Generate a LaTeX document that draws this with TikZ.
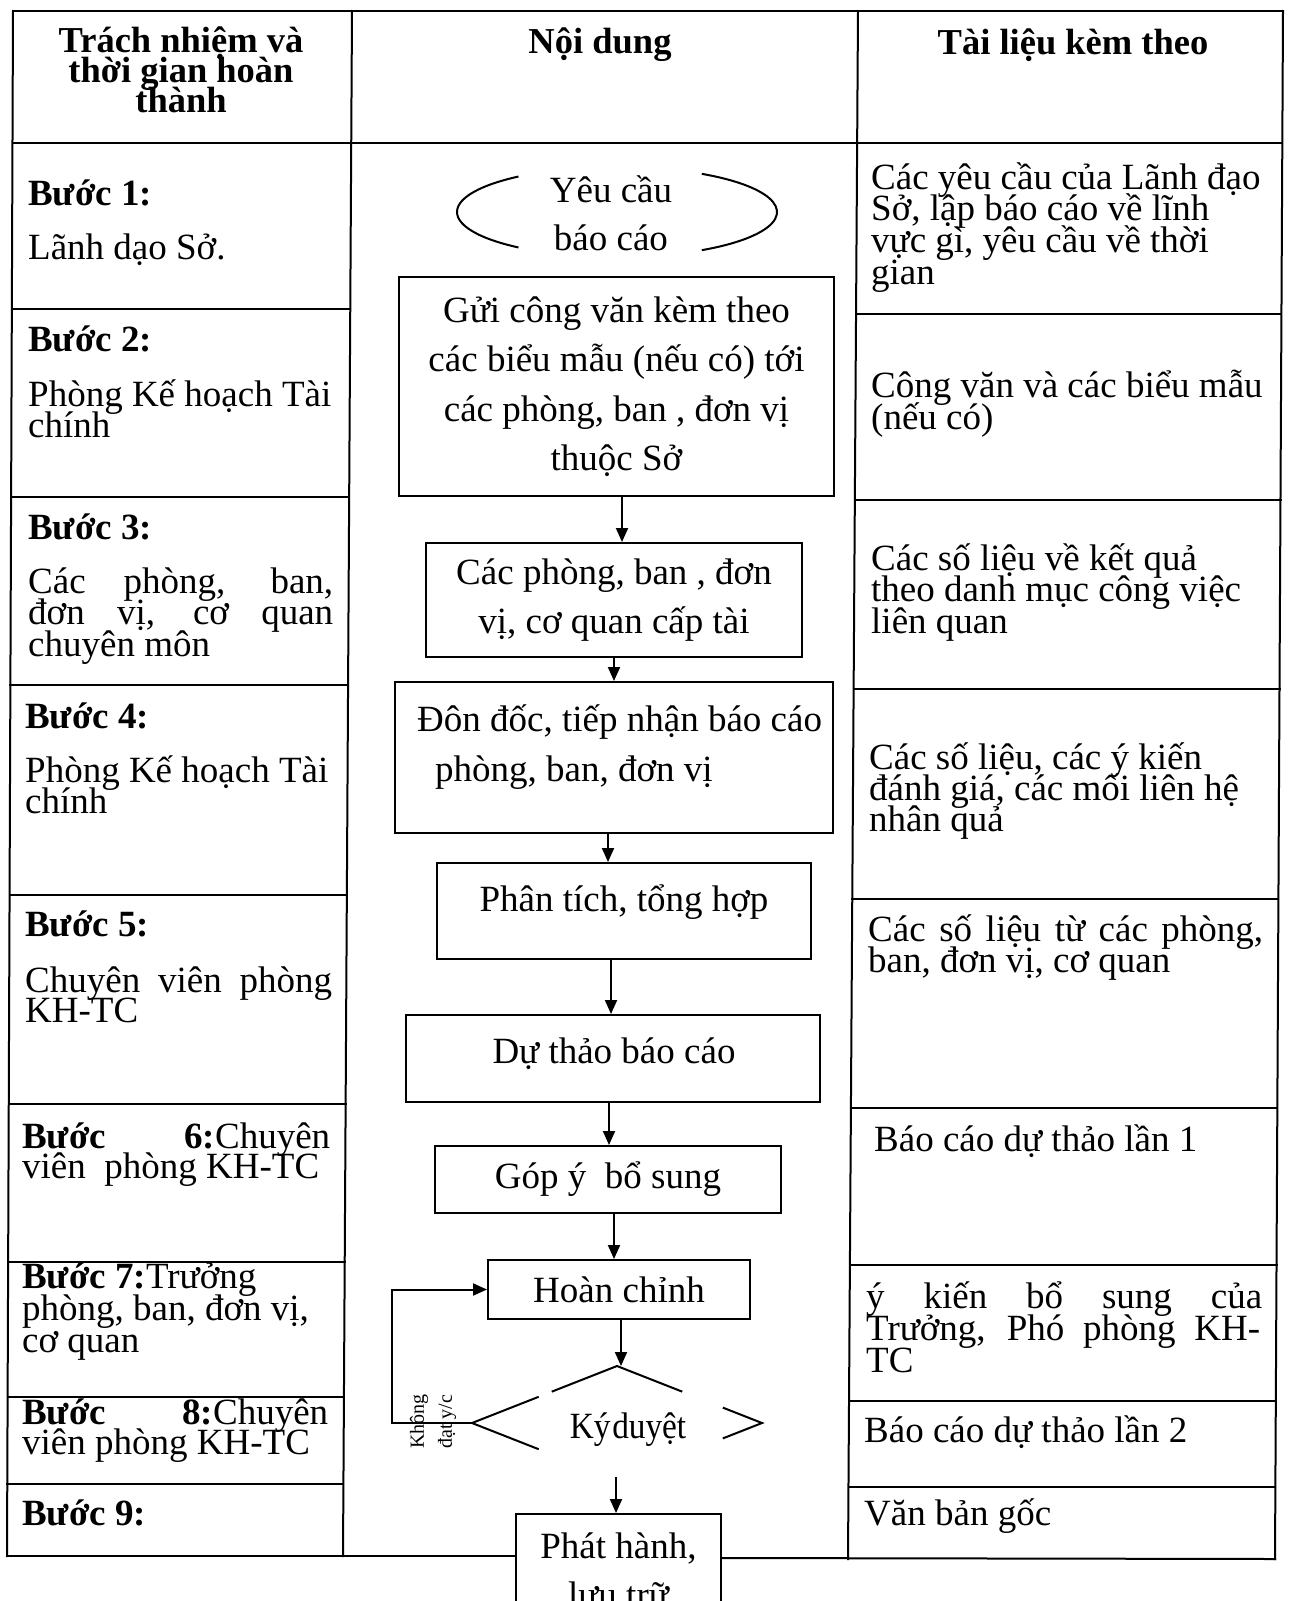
\documentclass[tikz,border=0pt]{standalone}
\usepackage{fontspec}
\usepackage{graphicx}
\setmainfont{Liberation Serif}
\usetikzlibrary{arrows.meta,calc}
\newcommand\flowfont{\fontsize{37}{49.5}\selectfont}
\newcommand\cellfont{\fontsize{37}{31.5}\selectfont}
\newcommand\hdrfont{\fontsize{36.5}{30}\selectfont\bfseries}
\newcommand\smallfont{\fontsize{20}{27}\selectfont}
\newcommand\ctrlines[2]{\vtop{\baselineskip=#1\lineskiplimit=-100pt\lineskip=0pt\halign{\hfil##\hfil\cr#2\crcr}}}
\newcommand\leftlines[2]{\vtop{\baselineskip=#1\lineskiplimit=-100pt\lineskip=0pt\halign{##\hfil\cr#2\crcr}}}
\tikzset{
  tbl/.style={line width=2pt, line cap=rect},
  box/.style={draw, line width=2pt, inner sep=0pt, align=center, font=\flowfont},
  flowtxt/.style={inner sep=0pt, font=\flowfont},
  cell/.style={inner sep=0pt, anchor=base west, font=\cellfont},
  hdr/.style={inner sep=0pt, anchor=base, font=\hdrfont},
  arr/.style={line width=2pt, -{Triangle[length=14pt,width=12pt]}},
  shapeline/.style={line width=2pt},
}
\begin{document}
\begin{tikzpicture}[x=1pt,y=-1pt]
\useasboundingbox (0,0) rectangle (1289,1601);
\clip (0,0) rectangle (1289,1601);

% ---------- flow boxes ----------
\node[box, minimum width=435pt, minimum height=219pt] (b1) at (616.5,386.5)
  {Gửi công văn kèm theo\\các biểu mẫu (nếu có) tới\\các phòng, ban , đơn vị\\thuộc Sở};
\node[box, minimum width=376pt, minimum height=114pt] (b2) at (614,600)
  {Các phòng, ban , đơn\\vị, cơ quan cấp tài};
\node[box, minimum width=438pt, minimum height=151pt] (b3) at (614,757.5) {};
\node[flowtxt, anchor=base west] (t3) at (417,731)
  {\leftlines{50pt}{Đôn đốc, tiếp nhận báo cáo\cr\kern18pt phòng, ban, đơn vị}};
\node[box, minimum width=374pt, minimum height=96pt] (b4) at (624,911) {};
\node[flowtxt, anchor=base] (t4) at (624,911) {Phân tích, tổng hợp};
\node[box, minimum width=414pt, minimum height=87pt] (b5) at (613,1058.5) {};
\node[flowtxt, anchor=base] (t5) at (614,1063) {Dự thảo báo cáo};
\node[box, minimum width=346pt, minimum height=67pt] (b6) at (608,1179.5) {Góp ý~~bổ sung};
\node[box, minimum width=262pt, minimum height=59pt] (b7) at (619,1289.5) {Hoàn chỉnh};
\node[box, minimum width=205pt, minimum height=140pt, anchor=north] (b8) at (618.5,1513) {};
\node[flowtxt, anchor=base] (t8) at (618.5,1558) {\ctrlines{49.5pt}{Phát hành,\cr lưu trữ}};

% ---------- start ellipse ----------
\coordinate (ec) at (617,212);
\draw[shapeline] (ec) ++(128:160 and 45) arc[start angle=128,end angle=232,x radius=160,y radius=45];
\draw[shapeline] (ec) ++(-58:160 and 45) arc[start angle=-58,end angle=58,x radius=160,y radius=45];
\node[flowtxt, anchor=base] (yc) at (611,202) {\ctrlines{48pt}{Yêu cầu\cr báo cáo}};

% ---------- decision ----------
\coordinate (dt) at (617,1366);
\coordinate (dl) at (472,1423);
\coordinate (dr) at (762,1423);
\coordinate (dbm) at (617,1480);
\draw[shapeline] ($(dt)!0.45!(dl)$) -- (dt) -- ($(dt)!0.45!(dr)$);
\draw[shapeline] ($(dl)!0.46!(dt)$) -- (dl) -- ($(dl)!0.46!(dbm)$);
\draw[shapeline] ($(dr)!0.27!(dt)$) -- (dr) -- ($(dr)!0.27!(dbm)$);
\node[flowtxt, anchor=base] (kd) at (628,1438) {\scalebox{0.9}[1]{Ký\hspace{2pt}duyệt}};
\node[inner sep=0pt, font=\smallfont, rotate=90, anchor=west] (kdl) at (433,1449)
  {\leftlines{28pt}{Không\cr đạt y/c}};

% ---------- connectors ----------
\coordinate (x1) at (622,0);
\coordinate (x2) at (614,0);
\coordinate (x3) at (608,0);
\coordinate (x4) at (611,0);
\coordinate (x5) at (609,0);
\coordinate (x6) at (614,0);
\coordinate (x7) at (621,0);
\coordinate (kdb) at (616,1477);
\coordinate (fb) at (392,1423);
\draw[arr] (b1.south -| x1) -- (b2.north -| x1);
\draw[arr] (b2.south -| x2) -- (b3.north -| x2);
\draw[arr] (b3.south -| x3) -- (b4.north -| x3);
\draw[arr] (b4.south -| x4) -- (b5.north -| x4);
\draw[arr] (b5.south -| x5) -- (b6.north -| x5);
\draw[arr] (b6.south -| x6) -- (b7.north -| x6);
\draw[arr] (b7.south -| x7) -- (dt -| x7);
\draw[arr] (kdb) -- (b8.north -| kdb);
\draw[arr] (dl) -- (fb) |- (b7.west);

% ---------- table lines ----------
\draw[tbl] (13,11) -- (1283,11);
\draw[tbl] (13,11) -- (7,1556);
\draw[tbl] (352,11) -- (343,1556);
\draw[tbl] (858,11) -- (848,1559);
\draw[tbl] (1283,11) -- (1275,1559);
\draw[tbl] (12.5,143) -- (1282.3,143);
\draw[tbl] (11.8,309) -- (350.3,309);
\draw[tbl] (11.1,497) -- (349.2,497);
\draw[tbl] (10.4,685) -- (348.1,685);
\draw[tbl] (9.6,895) -- (346.8,895);
\draw[tbl] (8.8,1104) -- (345.6,1104);
\draw[tbl] (8.1,1262) -- (344.7,1262);
\draw[tbl] (7.6,1397) -- (343.9,1397);
\draw[tbl] (7.3,1484) -- (343.4,1484);
\draw[tbl] (856.0,314) -- (1281.4,314);
\draw[tbl] (854.8,500) -- (1280.5,500);
\draw[tbl] (853.6,689) -- (1279.5,689);
\draw[tbl] (852.3,899) -- (1278.4,899);
\draw[tbl] (850.9,1108) -- (1277.3,1108);
\draw[tbl] (849.9,1265) -- (1276.5,1265);
\draw[tbl] (849.0,1401) -- (1275.8,1401);
\draw[tbl] (848.5,1487) -- (1275.4,1487);
\draw[tbl] (7,1556) -- (516,1556);
\draw[tbl] (721,1558) -- (1275,1559);

% ---------- header ----------
\node[hdr] (h1) at (181,52) {\ctrlines{30pt}{Trách nhiệm và\cr thời gian hoàn\cr thành}};
\node[hdr] (h2) at (600,53) {Nội dung};
\node[hdr] (h3) at (1073,54) {Tài liệu kèm theo};

% ---------- left column ----------
\node[cell] (l1a) at (28,205) {\textbf{Bước 1:}};
\node[cell] (l1b) at (28,259) {Lãnh dạo Sở.};
\node[cell] (l2a) at (28,351) {\textbf{Bước 2:}};
\node[cell] (l2b) at (28,406) {\leftlines{31.5pt}{Phòng Kế hoạch Tài\cr chính}};
\node[cell] (l3a) at (28,539) {\textbf{Bước 3:}};
\node[cell] (l3b) at (28,593) {\leftlines{31.5pt}{\hbox to 305pt{Các phòng, ban,}\cr\hbox to 305pt{đơn vị, cơ quan}\cr chuyên môn}};
\node[cell] (l4a) at (25,728) {\textbf{Bước 4:}};
\node[cell] (l4b) at (25,782) {\leftlines{31pt}{Phòng Kế hoạch Tài\cr chính}};
\node[cell] (l5a) at (25,936) {\textbf{Bước 5:}};
\node[cell] (l5b) at (25,992) {\leftlines{30pt}{\hbox to 307pt{Chuyên viên phòng}\cr KH-TC}};
\node[cell] (l6) at (22,1148) {\leftlines{30pt}{\hbox to 308pt{\textbf{Bước} \textbf{6:}Chuyên}\cr viên\ \ phòng KH-TC}};
\node[cell] (l7) at (22,1288) {\leftlines{32pt}{\textbf{Bước 7:}Trưởng\cr phòng, ban, đơn vị,\cr cơ quan}};
\node[cell] (l8) at (22,1424) {\leftlines{30pt}{\hbox to 306pt{\textbf{Bước} \textbf{8:}Chuyên}\cr viên phòng KH-TC}};
\node[cell] (l9) at (22,1525) {\textbf{Bước 9:}};

% ---------- right column ----------
\node[cell] (r1) at (871,189) {\leftlines{31.7pt}{Các yêu cầu của Lãnh đạo\cr Sở, lập báo cáo về lĩnh\cr vực gì, yêu cầu về thời\cr gian}};
\node[cell] (r2) at (871,397) {\leftlines{32pt}{Công văn và các biểu mẫu\cr (nếu có)}};
\node[cell] (r3) at (871,570) {\leftlines{31.5pt}{Các số liệu về kết quả\cr theo danh mục công việc\cr liên quan}};
\node[cell] (r4) at (869,769) {\leftlines{31pt}{Các số liệu, các ý kiến\cr đánh giá, các mối liên hệ\cr nhân quả}};
\node[cell] (r5) at (868,941) {\leftlines{31pt}{\hbox to 395pt{Các số liệu từ các phòng,}\cr ban, đơn vị, cơ quan}};
\node[cell] (r6) at (874,1151) {Báo cáo dự thảo lần 1};
\node[cell] (r7) at (866,1308) {\leftlines{32pt}{\hbox to 396pt{ý kiến bổ sung của}\cr\hbox to 394pt{Trưởng, Phó phòng KH-}\cr TC}};
\node[cell] (r8) at (864,1442) {Báo cáo dự thảo lần 2};
\node[cell] (r9) at (864,1525) {Văn bản gốc};
\end{tikzpicture}
\end{document}
